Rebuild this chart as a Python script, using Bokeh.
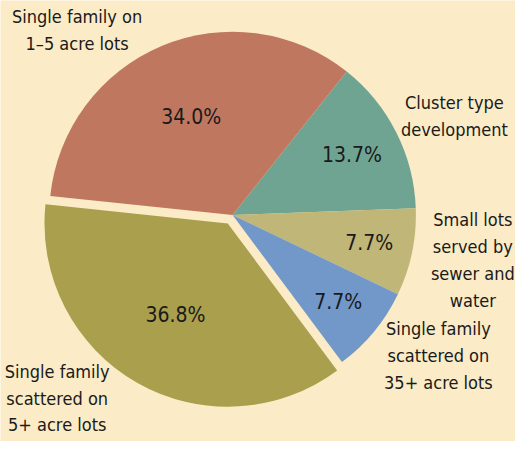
import math
from bokeh.plotting import figure
from bokeh.models import Range1d, ColumnDataSource
from bokeh.core.properties import value
from bokeh.embed import file_html
from bokeh.resources import INLINE

# ---- data ----
categories = ["Cluster type\ndevelopment",
              "Small lots\nserved by\nsewer and\nwater",
              "Single family\nscattered on\n35+ acre lots",
              "Single family\nscattered on\n5+ acre lots",
              "Single family on\n1\u20135 acre lots"]
shares = [13.7, 7.7, 7.7, 36.8, 34.0]
colors = ["#70A492", "#C0B678", "#7198C8", "#A99F4C", "#C07760"]
explode = [0, 0, 0, 1, 0]

# ---- layout (in reference-picture units, y measured from top) ----
BG = "#FBEBC6"
W, H = 515, 441
RW, RH = 531, 457
FONT = "DejaVu Sans Condensed"
cx, cy = 239.3, RH - 222.3
R = 189
start_deg = 51.5  # top boundary of the first slice; slices go clockwise
explode_dist = 10
pct_radius = [138, 144, 141, 119, 110]
name_pos = [(468, 119.5), (487, 269), (451.5, 368), (58.5, 412), (79, 30.5)]

p = figure(width=W, height=H, output_backend="svg", toolbar_location=None,
           x_range=Range1d(0, RW), y_range=Range1d(0, RH),
           min_border=0)
p.axis.visible = False
p.grid.visible = False
p.outline_line_color = None
p.background_fill_color = BG
p.border_fill_color = BG

total = sum(shares)
a = math.radians(start_deg)
xs, ys, sa, ea, px, py = [], [], [], [], [], []
for s, ex, pr in zip(shares, explode, pct_radius):
    span = 2 * math.pi * s / total
    end = a
    start = a - span
    mid = (start + end) / 2
    xs.append(cx + ex * explode_dist * math.cos(mid))
    ys.append(cy + ex * explode_dist * math.sin(mid))
    sa.append(start); ea.append(end)
    px.append(cx + pr * math.cos(mid)); py.append(cy + pr * math.sin(mid))
    a = start

src = ColumnDataSource(dict(x=xs, y=ys, sa=sa, ea=ea, color=colors,
                            px=px, py=py,
                            pct=[f"{v:.1f}%" for v in shares]))
p.wedge(x="x", y="y", radius=R, start_angle="sa", end_angle="ea",
        fill_color="color", line_color=None, source=src)
p.text(x="px", y="py", text="pct", text_align="center", text_baseline="middle",
       text_font=value(FONT), text_font_size="21px",
       text_color="#1A1A1A", source=src)

nsrc = ColumnDataSource(dict(x=[q[0] for q in name_pos],
                             y=[RH - q[1] for q in name_pos],
                             t=categories))
p.text(x="x", y="y", text="t", text_align="center", text_baseline="middle",
       text_font=value(FONT), text_font_size="18px",
       text_line_height=1.28, text_color="#1A1A1A", source=nsrc)

open("out.html", "w").write(file_html(p, INLINE))
